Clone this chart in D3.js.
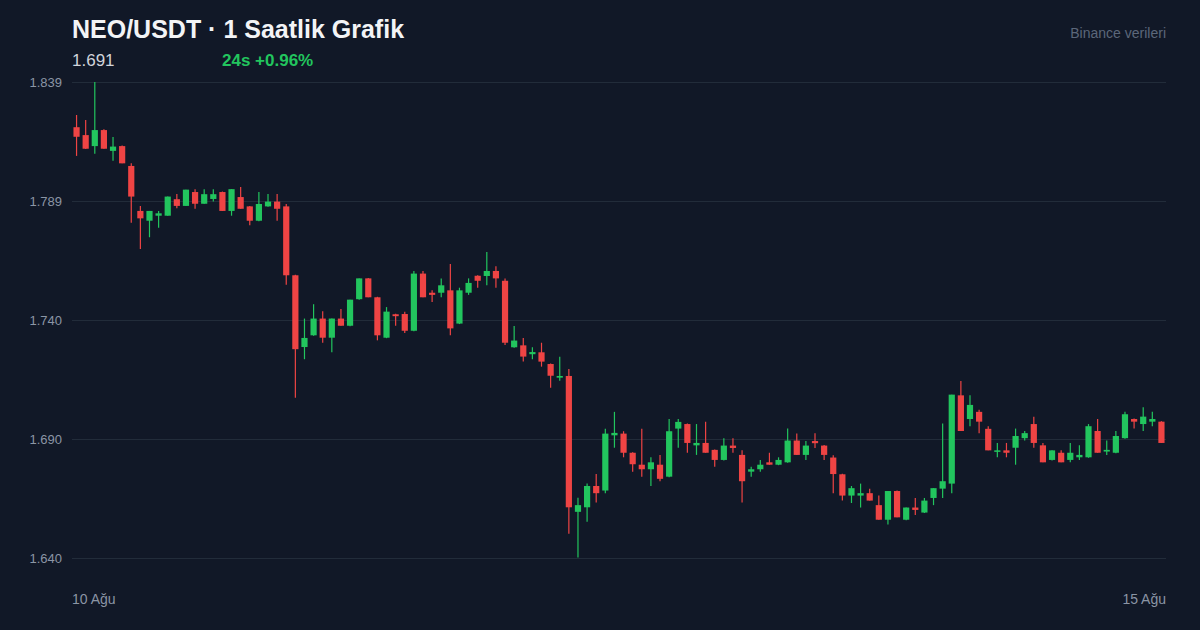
<!DOCTYPE html>
<html>
<head>
<meta charset="utf-8">
<script src="https://cdn.jsdelivr.net/npm/d3@7"></script>
<style>
  html, body { margin: 0; padding: 0; background: #111827; }
  svg { display: block; }
</style>
</head>
<body>
<div id="chart"></div>
<script>
// ---- Data (hourly candles, NEO/USDT, 10–15 Aug) ----
const startTime = "2025-08-10T00:00:00";
const opens = [
  1.8201,1.8168,1.8122,1.8189,1.8102,1.8122,1.8039,1.7851,1.7810,1.7831,
  1.7831,1.7900,1.7872,1.7930,1.7881,1.7901,1.7930,1.7851,1.7909,1.7870,
  1.7810,1.7870,1.7890,1.7870,1.7582,1.7282,1.7331,1.7401,1.7321,1.7401,
  1.7371,1.7482,1.7569,1.7490,1.7321,1.7419,1.7420,1.7350,1.7589,1.7509,
  1.7509,1.7519,1.7380,1.7509,1.7580,1.7579,1.7600,1.7559,1.7281,1.7289,
  1.7252,1.7260,1.7211,1.7154,1.7161,1.6593,1.6612,1.6701,1.6682,1.6913,
  1.6920,1.6840,1.6790,1.6771,1.6790,1.6740,1.6941,1.6960,1.6871,1.6881,
  1.6852,1.6810,1.6870,1.6831,1.6761,1.6771,1.6800,1.6790,1.6800,1.6891,
  1.6831,1.6889,1.6870,1.6820,1.6750,1.6661,1.6661,1.6671,1.6621,1.6560,
  1.6680,1.6560,1.6611,1.6590,1.6651,1.6690,1.6711,1.7080,1.6981,1.7011,
  1.6940,1.6845,1.6850,1.6861,1.6901,1.6960,1.6871,1.6810,1.6840,1.6810,
  1.6821,1.6821,1.6931,1.6845,1.6840,1.6901,1.6981,1.6960,1.6970,1.6970
];
const highs = [
  1.8252,1.8231,1.8390,1.8192,1.8160,1.8125,1.8050,1.7872,1.7851,1.7851,
  1.7911,1.7922,1.7940,1.7942,1.7942,1.7942,1.7932,1.7942,1.7951,1.7872,
  1.7930,1.7922,1.7922,1.7880,1.7584,1.7401,1.7461,1.7432,1.7401,1.7441,
  1.7480,1.7569,1.7571,1.7492,1.7449,1.7421,1.7430,1.7600,1.7600,1.7519,
  1.7569,1.7629,1.7530,1.7569,1.7582,1.7679,1.7620,1.7569,1.7370,1.7320,
  1.7281,1.7300,1.7213,1.7241,1.7190,1.6652,1.6711,1.6751,1.6940,1.7011,
  1.6930,1.6842,1.6940,1.6821,1.6831,1.6981,1.6981,1.6962,1.6960,1.6970,
  1.6854,1.6901,1.6901,1.6850,1.6781,1.6810,1.6840,1.6821,1.6941,1.6920,
  1.6889,1.6922,1.6872,1.6830,1.6752,1.6701,1.6711,1.6690,1.6661,1.6680,
  1.6682,1.6611,1.6651,1.6651,1.6692,1.6962,1.7083,1.7140,1.7080,1.7020,
  1.6951,1.6881,1.6881,1.6941,1.6931,1.6991,1.6881,1.6850,1.6850,1.6881,
  1.6871,1.6960,1.6981,1.6891,1.6931,1.7011,1.6983,1.7030,1.7011,1.6972
];
const lows = [
  1.8081,1.8110,1.8090,1.8111,1.8061,1.8050,1.7802,1.7692,1.7741,1.7781,
  1.7831,1.7862,1.7872,1.7860,1.7881,1.7890,1.7851,1.7831,1.7860,1.7791,
  1.7808,1.7868,1.7810,1.7542,1.7070,1.7231,1.7329,1.7300,1.7260,1.7371,
  1.7369,1.7480,1.7490,1.7310,1.7319,1.7371,1.7341,1.7348,1.7490,1.7470,
  1.7490,1.7331,1.7378,1.7500,1.7530,1.7540,1.7530,1.7291,1.7279,1.7221,
  1.7231,1.7200,1.7112,1.7141,1.6501,1.6402,1.6552,1.6632,1.6671,1.6861,
  1.6821,1.6761,1.6740,1.6701,1.6721,1.6738,1.6861,1.6840,1.6831,1.6840,
  1.6781,1.6808,1.6840,1.6632,1.6740,1.6761,1.6790,1.6788,1.6798,1.6831,
  1.6810,1.6860,1.6810,1.6671,1.6640,1.6630,1.6611,1.6640,1.6560,1.6540,
  1.6570,1.6558,1.6580,1.6588,1.6621,1.6651,1.6671,1.6931,1.6951,1.6922,
  1.6850,1.6821,1.6821,1.6790,1.6891,1.6861,1.6800,1.6808,1.6800,1.6800,
  1.6810,1.6819,1.6840,1.6831,1.6838,1.6899,1.6941,1.6931,1.6951,1.6881
];
const closes = [
  1.8161,1.8111,1.8189,1.8111,1.8120,1.8050,1.7911,1.7820,1.7851,1.7841,
  1.7911,1.7872,1.7940,1.7881,1.7921,1.7921,1.7851,1.7942,1.7860,1.7810,
  1.7880,1.7890,1.7860,1.7582,1.7273,1.7320,1.7401,1.7321,1.7401,1.7371,
  1.7480,1.7569,1.7490,1.7331,1.7430,1.7411,1.7350,1.7589,1.7490,1.7500,
  1.7540,1.7360,1.7519,1.7550,1.7559,1.7600,1.7569,1.7300,1.7309,1.7242,
  1.7261,1.7221,1.7162,1.7161,1.6612,1.6621,1.6701,1.6671,1.6920,1.6923,
  1.6840,1.6792,1.6771,1.6800,1.6731,1.6930,1.6969,1.6881,1.6881,1.6840,
  1.6810,1.6870,1.6860,1.6721,1.6771,1.6790,1.6790,1.6810,1.6891,1.6831,
  1.6870,1.6880,1.6831,1.6751,1.6661,1.6692,1.6671,1.6640,1.6560,1.6680,
  1.6570,1.6611,1.6601,1.6640,1.6692,1.6721,1.7083,1.6931,1.7040,1.6970,
  1.6850,1.6850,1.6840,1.6910,1.6922,1.6881,1.6800,1.6850,1.6800,1.6840,
  1.6831,1.6951,1.6840,1.6852,1.6910,1.7001,1.6970,1.6991,1.6981,1.6881
];
const yDomain = [1.640, 1.839];
const yTickCount = 5;
const xTickLabels = ["10 Ağu", "15 Ağu"];
const titleText = "NEO/USDT · 1 Saatlik Grafik";
const priceText = "1.691";
const changeText = "24s +0.96%";
const sourceText = "Binance verileri";

(function draw() {
  const W = 1200, H = 630;
  const mL = 72, mR = 1166, mT = 82, mB = 558;
  const colors = { bg: "#111827", grid: "#222c3a", up: "#22c55e", down: "#ef4444",
    title: "#f3f4f6", price: "#d1d5db", axis: "#8b95a5", source: "#5c677a" };
  const font = "'Liberation Sans', Arial, Helvetica, sans-serif";

  const t0 = new Date(startTime);
  const candles = opens.map((o, i) => ({
    t: new Date(t0.getTime() + i * 3600e3),
    o, h: highs[i], l: lows[i], c: closes[i]
  }));

  const svg = d3.select("#chart").append("svg").attr("width", W).attr("height", H);
  svg.append("rect").attr("width", W).attr("height", H).attr("fill", colors.bg);

  const x = d3.scaleBand().domain(candles.map(d => +d.t)).range([mL, mR]).paddingInner(0.32).paddingOuter(0.16);
  const y = d3.scaleLinear().domain(yDomain).range([mB, mT]);

  const yTicks = d3.range(yTickCount).map(i => yDomain[0] + i * (yDomain[1] - yDomain[0]) / (yTickCount - 1));

  const yAxis = d3.axisLeft(y).tickValues(yTicks).tickFormat(d3.format(".3f")).tickSize(-(mR - mL)).tickPadding(10);
  const gy = svg.append("g").attr("transform", `translate(${mL},0)`).call(yAxis);
  gy.select(".domain").remove();
  gy.selectAll(".tick line").attr("stroke", colors.grid).attr("stroke-width", 1.2);
  gy.selectAll(".tick text").attr("fill", colors.axis).attr("font-family", font).attr("font-size", 13);

  const g = svg.append("g");
  const bw = x.bandwidth();
  const cg = g.selectAll("g.c").data(candles).join("g").attr("class", "c");
  cg.append("line")
    .attr("x1", d => x(+d.t) + bw / 2).attr("x2", d => x(+d.t) + bw / 2)
    .attr("y1", d => y(d.h)).attr("y2", d => y(d.l))
    .attr("stroke", d => d.c >= d.o ? colors.up : colors.down).attr("stroke-width", 1.2);
  cg.append("rect")
    .attr("x", d => x(+d.t)).attr("width", bw)
    .attr("y", d => y(Math.max(d.o, d.c)))
    .attr("height", d => Math.max(1.5, Math.abs(y(d.o) - y(d.c))))
    .attr("fill", d => d.c >= d.o ? colors.up : colors.down);

  svg.append("text").attr("x", mL).attr("y", 604).attr("fill", colors.axis)
    .attr("font-family", font).attr("font-size", 14).text(xTickLabels[0]);
  svg.append("text").attr("x", mR).attr("y", 604).attr("text-anchor", "end").attr("fill", colors.axis)
    .attr("font-family", font).attr("font-size", 14).text(xTickLabels[1]);

  svg.append("text").attr("x", 72).attr("y", 38).attr("fill", colors.title)
    .attr("font-family", font).attr("font-size", 25).attr("font-weight", "bold").text(titleText);
  svg.append("text").attr("x", 72).attr("y", 66).attr("fill", colors.price)
    .attr("font-family", font).attr("font-size", 17).text(priceText);
  svg.append("text").attr("x", 222).attr("y", 66).attr("fill", colors.up)
    .attr("font-family", font).attr("font-size", 17).attr("font-weight", "bold").text(changeText);
  svg.append("text").attr("x", mR).attr("y", 38).attr("text-anchor", "end").attr("fill", colors.source)
    .attr("font-family", font).attr("font-size", 14).text(sourceText);
})();
</script>
</body>
</html>
